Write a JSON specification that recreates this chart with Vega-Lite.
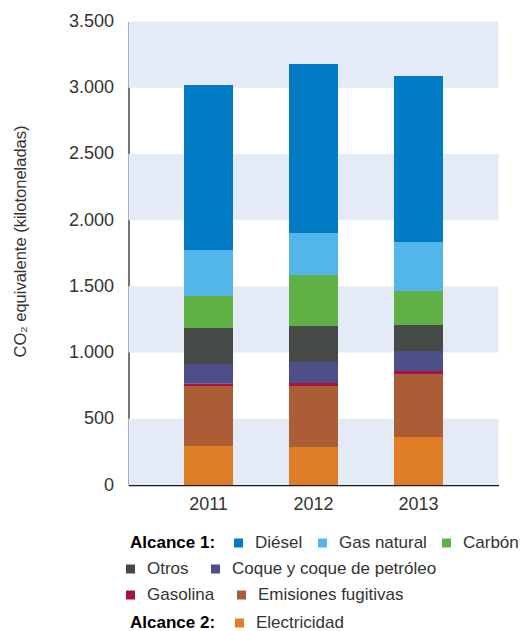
{
  "$schema": "https://vega.github.io/schema/vega-lite/v6.json",
  "autosize": "none",
  "width": 370,
  "height": 463.5,
  "padding": {"left": 128.5, "top": 21.5, "right": 30.5, "bottom": 146},
  "config": {
    "view": {"stroke": null},
    "font": "Liberation Sans",
    "legend": {"padding": 0, "labelFont": "Liberation Sans", "labelFontSize": 17, "labelColor": "#333333", "labelLimit": 400, "titleFont": "Liberation Sans", "titleFontSize": 17, "titleColor": "#000000", "titleFontWeight": "bold", "symbolType": "square", "symbolSize": 81, "symbolStrokeWidth": 0, "symbolOpacity": 1, "labelOffset": 8, "columnPadding": 18, "gridAlign": "none", "direction": "horizontal", "orient": "none"}
  },
  "datasets": {
    "emisiones": [
      {"year": "2011", "category": "Electricidad", "value": 294, "orden": 1},
      {"year": "2011", "category": "Emisiones fugitivas", "value": 454, "orden": 2},
      {"year": "2011", "category": "Gasolina", "value": 17, "orden": 3},
      {"year": "2011", "category": "Coque y coque de petróleo", "value": 149, "orden": 4},
      {"year": "2011", "category": "Otros", "value": 272, "orden": 5},
      {"year": "2011", "category": "Carbón", "value": 241, "orden": 6},
      {"year": "2011", "category": "Gas natural", "value": 348, "orden": 7},
      {"year": "2011", "category": "Diésel", "value": 1245, "orden": 8},
      {"year": "2012", "category": "Electricidad", "value": 287, "orden": 1},
      {"year": "2012", "category": "Emisiones fugitivas", "value": 461, "orden": 2},
      {"year": "2012", "category": "Gasolina", "value": 22, "orden": 3},
      {"year": "2012", "category": "Coque y coque de petróleo", "value": 159, "orden": 4},
      {"year": "2012", "category": "Otros", "value": 272, "orden": 5},
      {"year": "2012", "category": "Carbón", "value": 385, "orden": 6},
      {"year": "2012", "category": "Gas natural", "value": 317, "orden": 7},
      {"year": "2012", "category": "Diésel", "value": 1276, "orden": 8},
      {"year": "2013", "category": "Electricidad", "value": 362, "orden": 1},
      {"year": "2013", "category": "Emisiones fugitivas", "value": 476, "orden": 2},
      {"year": "2013", "category": "Gasolina", "value": 23, "orden": 3},
      {"year": "2013", "category": "Coque y coque de petróleo", "value": 151, "orden": 4},
      {"year": "2013", "category": "Otros", "value": 196, "orden": 5},
      {"year": "2013", "category": "Carbón", "value": 257, "orden": 6},
      {"year": "2013", "category": "Gas natural", "value": 370, "orden": 7},
      {"year": "2013", "category": "Diésel", "value": 1253, "orden": 8}
    ],
    "bandas": [
      {"lo": 0, "hi": 500},
      {"lo": 1000, "hi": 1500},
      {"lo": 2000, "hi": 2500},
      {"lo": 3000, "hi": 3500}
    ]
  },
  "data": {"name": "emisiones"},
  "encoding": {
    "x": {
      "field": "year", "type": "nominal",
      "scale": {"paddingInner": 0.5333, "paddingOuter": 0.5286},
      "axis": {"title": null, "labelAngle": 0, "ticks": false, "labelPadding": 10, "labelFontSize": 18, "labelColor": "#333333", "labelFont": "Liberation Sans", "domainColor": "#1a1a1a", "domainWidth": 1.5, "grid": false}
    }
  },
  "layer": [
    {
      "data": {"name": "bandas"},
      "mark": {"type": "rect", "color": "#e4ebf6"},
      "encoding": {
        "x": null,
        "y": {"field": "lo", "type": "quantitative"},
        "y2": {"field": "hi"}
      }
    },
    {
      "mark": {"type": "bar"},
      "encoding": {
        "y": {
          "field": "value", "type": "quantitative", "aggregate": "sum", "stack": "zero",
          "scale": {"domain": [0, 3500], "nice": false},
          "axis": {
            "title": "CO₂ equivalente (kilotoneladas)",
            "values": [0, 500, 1000, 1500, 2000, 2500, 3000, 3500],
            "labelExpr": "replace(format(datum.value, ','), ',', '.')",
            "ticks": false, "grid": false, "labelPadding": 15,
            "labelFontSize": 18, "labelColor": "#333333", "labelFont": "Liberation Sans",
            "domainColor": "#1a1a1a", "domainWidth": 1.2,
            "titleFontSize": 16.5, "titleFontWeight": "normal", "titleColor": "#333333", "titleFont": "Liberation Sans",
            "titleX": -108.5, "titleY": 219.5, "titleBaseline": "middle", "titleAngle": -90
          }
        },
        "color": {
          "field": "category", "type": "nominal",
          "scale": {
            "domain": ["Diésel", "Gas natural", "Carbón", "Otros", "Coque y coque de petróleo", "Gasolina", "Emisiones fugitivas", "Electricidad"],
            "range": ["#007bc4", "#52b6e8", "#5fb146", "#474b47", "#4c4f8a", "#a8123e", "#ab5d35", "#e07d27"]
          },
          "legend": null
        },
        "order": {"field": "orden", "type": "quantitative", "sort": "ascending"}
      }
    },
    {
      "transform": [{"filter": {"field": "category", "oneOf": ["Diésel", "Gas natural", "Carbón"]}}],
      "mark": {"type": "square", "opacity": 0},
      "encoding": {
        "y": {"field": "value", "type": "quantitative"},
        "color": {
          "field": "category", "type": "nominal",
          "scale": {"domain": ["Diésel", "Gas natural", "Carbón"], "range": ["#007bc4", "#52b6e8", "#5fb146"]},
          "legend": {"title": "Alcance 1:", "titleOrient": "left", "titlePadding": 14, "columnPadding": 11, "legendX": 1.5, "legendY": 513, "symbolOpacity": 1}
        }
      }
    },
    {
      "transform": [{"filter": {"field": "category", "oneOf": ["Otros", "Coque y coque de petróleo"]}}],
      "mark": {"type": "square", "opacity": 0},
      "encoding": {
        "y": {"field": "value", "type": "quantitative"},
        "color": {
          "field": "category", "type": "nominal",
          "scale": {"domain": ["Otros", "Coque y coque de petróleo"], "range": ["#474b47", "#4c4f8a"]},
          "legend": {"title": null, "legendX": -6.5, "legendY": 539, "symbolOpacity": 1}
        }
      }
    },
    {
      "transform": [{"filter": {"field": "category", "oneOf": ["Gasolina", "Emisiones fugitivas"]}}],
      "mark": {"type": "square", "opacity": 0},
      "encoding": {
        "y": {"field": "value", "type": "quantitative"},
        "color": {
          "field": "category", "type": "nominal",
          "scale": {"domain": ["Gasolina", "Emisiones fugitivas"], "range": ["#a8123e", "#ab5d35"]},
          "legend": {"title": null, "legendX": -6.5, "legendY": 565, "symbolOpacity": 1}
        }
      }
    },
    {
      "transform": [{"filter": {"field": "category", "equal": "Electricidad"}}],
      "mark": {"type": "square", "opacity": 0},
      "encoding": {
        "y": {"field": "value", "type": "quantitative"},
        "color": {
          "field": "category", "type": "nominal",
          "scale": {"domain": ["Electricidad"], "range": ["#e07d27"]},
          "legend": {"title": "Alcance 2:", "titleOrient": "left", "titlePadding": 15, "legendX": 1.5, "legendY": 593, "symbolOpacity": 1}
        }
      }
    }
  ],
  "resolve": {"scale": {"color": "independent"}, "legend": {"color": "independent"}}
}
